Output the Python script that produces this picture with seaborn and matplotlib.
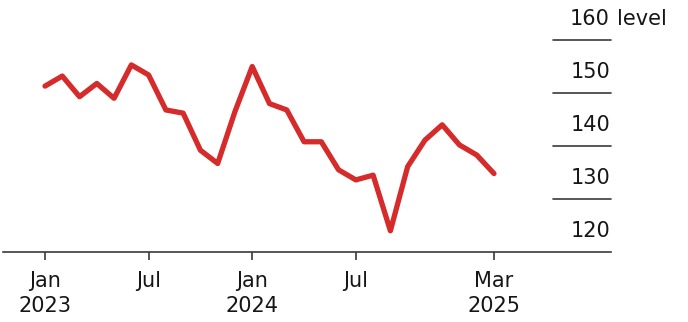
import matplotlib
matplotlib.use("Agg")
import matplotlib.pyplot as plt
from matplotlib.transforms import blended_transform_factory, ScaledTranslation
import seaborn as sns
import pandas as pd

# ---- data (monthly, Jan 2023 .. Mar 2025) ----
months = list(range(27))
values = [151.3, 153.2, 149.3, 151.8, 149.0, 155.3, 153.4, 146.8, 146.2,
          139.2, 136.7, 146.5, 155.0, 148.0, 146.8, 140.8, 140.8, 135.5,
          133.6, 134.5, 124.0, 136.1, 141.1, 144.0, 140.2, 138.3, 134.8]
tick_pos = [0, 6, 12, 18, 26]
tick_labels = ["Jan\n2023", "Jul", "Jan\n2024", "Jul", "Mar\n2025"]
y_ticks = [120, 130, 140, 150, 160]
y_labels = ["120", "130", "140", "150", "160"]
unit = "level"

sns.set_theme(style="white")
plt.rcParams['font.family'] = ['DejaVu Sans']

W, H = 688, 322
fig = plt.figure(figsize=(W / 100, H / 100), dpi=100)
ax_left, ax_right, ax_bottom, ax_top = 3, 611, 252, 40
ax = fig.add_axes([ax_left / W, (H - ax_bottom) / H,
                   (ax_right - ax_left) / W, (ax_bottom - ax_top) / H])

df = pd.DataFrame({"month": months, "value": values})
sns.lineplot(data=df, x="month", y="value", ax=ax, color="#d52b2b",
             linewidth=3.8)

px_per_month = (494 - 45) / 26
ax.set_xlim((ax_left - 45) / px_per_month, (ax_right - 45) / px_per_month)
ax.set_ylim(120, 160)

for s in ["top", "left", "right"]:
    ax.spines[s].set_visible(False)
ax.spines["bottom"].set_color("#3a3a3a")
ax.spines["bottom"].set_linewidth(1.2)

txt_color = "#161616"
fs = 15
ax.set_xticks(tick_pos, tick_labels)
ax.tick_params(axis="x", bottom=True, direction="out", length=6, width=1.2,
               color="#3a3a3a", pad=8, labelsize=fs, labelcolor=txt_color)
for lab in ax.get_xticklabels():
    lab.set_linespacing(1.3)
ax.set_yticks([])
ax.set_xlabel("")
ax.set_ylabel("")

# short gridline segments under the right-hand labels
seg_start = (553 - ax_left) / (ax_right - ax_left)
for y in y_ticks[1:]:
    ax.axhline(y, xmin=seg_start, xmax=1, color="#3a3a3a", lw=1.2,
               clip_on=False)

trans = blended_transform_factory(ax.transAxes, ax.transData)
off = ScaledTranslation(-1 / 100, 15 / 100, fig.dpi_scale_trans)
for y, lab in zip(y_ticks, y_labels):
    ax.text(1.0, y, lab, transform=trans + off, ha="right", va="baseline",
            fontsize=fs, color=txt_color, clip_on=False)
ax.text((618 - ax_left) / (ax_right - ax_left), y_ticks[-1], unit,
        transform=trans + off, ha="left", va="baseline", fontsize=fs,
        color=txt_color, clip_on=False)

fig.savefig("out.png", dpi=100)
